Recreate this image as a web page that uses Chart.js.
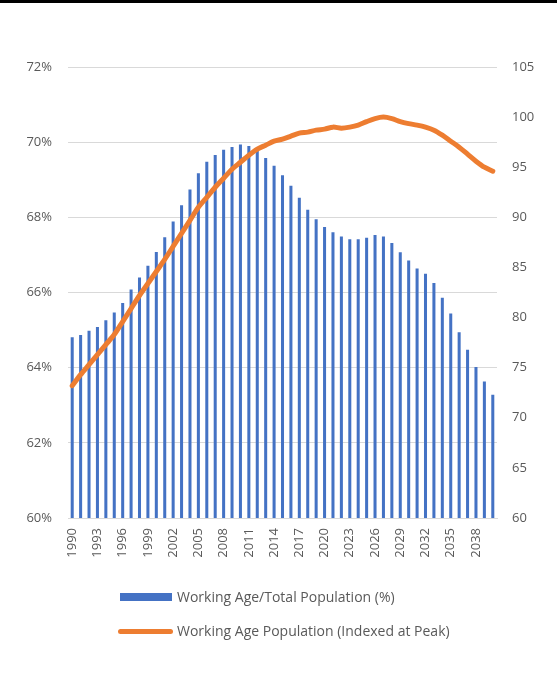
<!DOCTYPE html>
<html>
<head>
<meta charset="utf-8">
<script src="https://cdn.jsdelivr.net/npm/chart.js@4/dist/chart.umd.min.js"></script>
<style>
  html, body { margin: 0; padding: 0; background: #fff; }
  #wrap { position: relative; width: 557px; height: 697px; overflow: hidden; }
  #topbar { position: absolute; left: 0; top: 0; width: 557px; height: 3px; background: #000; }
  canvas { position: absolute; left: 0; top: 0; }
  .leg { position: absolute; font-family: 'Open Sans', sans-serif; font-size: 14px; color: #595959; line-height: 18px; white-space: nowrap; }
  .sw { position: absolute; }
</style>
</head>
<body>
<div id="wrap">
  <canvas id="c" width="557" height="697"></canvas>
  <div id="topbar"></div>
  <div class="sw" style="left:120px; top:593px; width:52px; height:8px; background:#4472C4;"></div>
  <div class="leg" style="left:177px; top:588px;">Working Age/Total Population (%)</div>
  <div class="sw" style="left:118px; top:629px; width:55px; height:5px; border-radius:3px; background:#ED7D31;"></div>
  <div class="leg" style="left:177px; top:622px;">Working Age Population (Indexed at Peak)</div>
</div>
<script>
const years = [];
for (let y = 1990; y <= 2040; y++) years.push(String(y));

const workingAgeShare = [
  64.81, 64.87, 64.98, 65.08, 65.26, 65.47, 65.72, 66.08, 66.40, 66.71,
  67.08, 67.47, 67.89, 68.32, 68.74, 69.17, 69.48, 69.66, 69.80, 69.87,
  69.94, 69.90, 69.80, 69.58, 69.37, 69.12, 68.84, 68.52, 68.20, 67.95,
  67.74, 67.60, 67.49, 67.42, 67.42, 67.46, 67.53, 67.49, 67.32, 67.07,
  66.85, 66.64, 66.50, 66.25, 65.86, 65.44, 64.94, 64.48, 64.02, 63.63,
  63.28
];

const workingAgeIndex = [
  73.2, 74.3, 75.3, 76.3, 77.3, 78.3, 79.6, 80.9, 82.2, 83.4,
  84.6, 85.8, 87.1, 88.4, 89.7, 91.0, 92.0, 93.0, 93.9, 94.8,
  95.5, 96.2, 96.8, 97.2, 97.6, 97.8, 98.1, 98.4, 98.5, 98.7,
  98.8, 99.0, 98.9, 99.0, 99.2, 99.55, 99.85, 100.0, 99.85, 99.55,
  99.35, 99.2, 99.0, 98.7, 98.2, 97.6, 97.0, 96.3, 95.6, 95.0,
  94.6
];

const leftTicks = { min: 60, max: 72, step: 2 };
const rightTicks = { min: 60, max: 105, step: 5 };

const font = { family: "'Open Sans', sans-serif", size: 13 };
const txt = '#595959';

new Chart(document.getElementById('c'), {
  data: {
    labels: years,
    datasets: [
      {
        type: 'line',
        label: 'Working Age Population (Indexed at Peak)',
        data: workingAgeIndex,
        yAxisID: 'y1',
        borderColor: '#ED7D31',
        backgroundColor: '#ED7D31',
        borderWidth: 5,
        pointRadius: 0,
        tension: 0.3,
        borderCapStyle: 'round',
        borderJoinStyle: 'round',
        order: 0
      },
      {
        type: 'bar',
        label: 'Working Age/Total Population (%)',
        data: workingAgeShare,
        yAxisID: 'y',
        backgroundColor: '#4472C4',
        barPercentage: 0.36,
        categoryPercentage: 1.0,
        order: 1
      }
    ]
  },
  options: {
    responsive: false,
    animation: false,
    devicePixelRatio: 1,
    layout: { padding: { top: 67, left: 0, right: 0, bottom: 129 } },
    plugins: { legend: { display: false }, tooltip: { enabled: false } },
    scales: {
      x: {
        type: 'category',
        grid: { display: false, drawTicks: false },
        border: { display: true, color: '#d9d9d9', width: 1 },
        ticks: {
          autoSkip: false,
          minRotation: 90,
          maxRotation: 90,
          padding: 10,
          color: txt,
          font: font,
          callback: function(v, i) { return (i % 3 === 0 && i <= 48) ? years[i] : ''; }
        },
        afterFit: function(s) { s.height = 50; }
      },
      y: {
        position: 'left',
        min: leftTicks.min, max: leftTicks.max,
        grid: { color: '#d9d9d9', drawTicks: false },
        border: { display: false },
        ticks: {
          stepSize: leftTicks.step,
          padding: 16,
          color: txt,
          font: font,
          callback: function(v) { return v + '%'; }
        },
        afterFit: function(s) { s.width = 68; }
      },
      y1: {
        position: 'right',
        min: rightTicks.min, max: rightTicks.max,
        grid: { display: false, drawTicks: false },
        border: { display: false },
        ticks: {
          stepSize: rightTicks.step,
          padding: 15,
          color: txt,
          font: font
        },
        afterFit: function(s) { s.width = 60; }
      }
    }
  }
});
</script>
</body>
</html>
